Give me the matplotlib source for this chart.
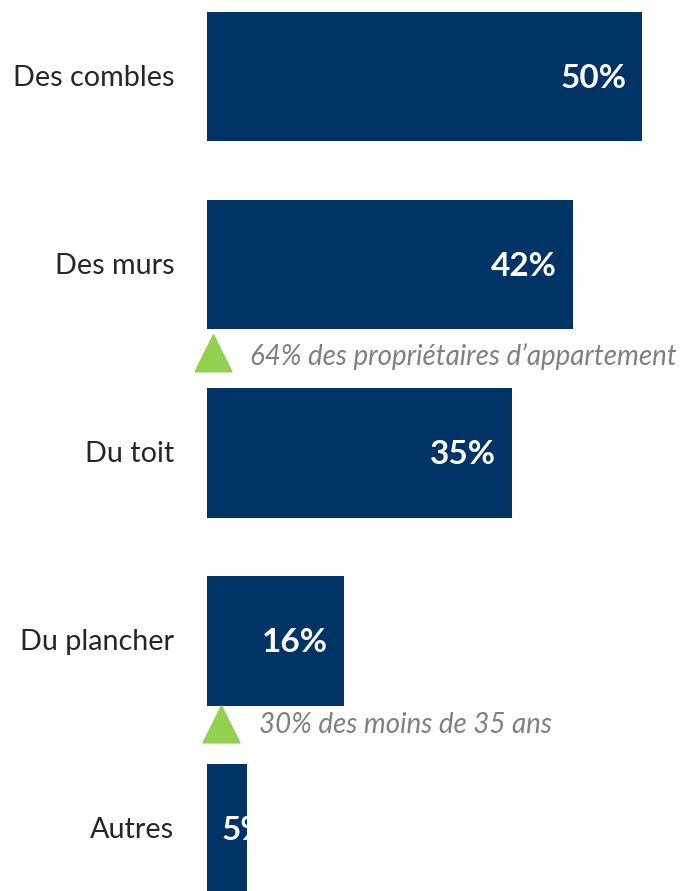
import numpy as np
import matplotlib.pyplot as plt
from matplotlib.patches import Polygon

# données
categories = ["Des combles", "Des murs", "Du toit", "Du plancher", "Autres"]
values = [50, 42, 35, 15.7, 4.6]
labels = ["50%", "42%", "35%", "16%", "5%"]
notes = {1: "64% des propriétaires d\u2019appartement", 3: "30% des moins de 35 ans"}

NAVY = "#003366"
GREEN = "#92D050"
GREY = "#808080"

W, H = 685, 891
fig = plt.figure(figsize=(W / 100, H / 100), dpi=100)
plt.rcParams['font.family'] = ['Lato', 'DejaVu Sans']

# axe: x=0 à 207px, x=50 à 642px ; y=0 à 76.5px, pas de 188px
x0, x50 = 207.3, 642.3
ax = fig.add_axes([x0 / W, 0, (x50 - x0) / W, 1])
ax.set_xlim(0, 50)
step = 188.1
ax.set_ylim((H - 76.5) / step, -76.5 / step)
ax.axis("off")

px = 50 / (x50 - x0)  # unités par pixel
ypx = 1 / step

y = np.arange(len(categories))
bars = ax.barh(y, values, height=0.69, color=NAVY, edgecolor="none")

for i, (b, v, lab, cat) in enumerate(zip(bars, values, labels, categories)):
    if v >= 10:
        t = ax.text(v - 16 * px, i + 2 * ypx, lab, ha="right", va="center",
                    color="white", fontsize=24, fontweight="bold")
    else:
        t = ax.text(14 * px, i + 2 * ypx, lab, ha="left", va="center",
                    color="white", fontsize=24, fontweight="bold")
    t.set_clip_path(b)
    ax.text(-33 * px, i + 1 * ypx, cat, ha="right", va="center", color="#262626",
            fontsize=20.7, clip_on=False)

# annotations avec triangle vert (positions en pixels)
tri_x = {1: 213.5, 3: 221.5}
tri_y = {1: 353.3, 3: 724.4}
txt_x = {1: 250, 3: 259}
txt_y = {1: 357, 3: 725}
def py(p):
    return (p - 76.5) / step

for i, txt in notes.items():
    xt = (tri_x[i] - x0) * px
    yc = py(tri_y[i])
    half = 18.5 * px
    hgt = 37 * ypx
    tri = Polygon([[xt - half, yc + hgt / 2], [xt + half, yc + hgt / 2],
                   [xt, yc - hgt / 2]], closed=True, color=GREEN, clip_on=False)
    ax.add_patch(tri)
    ax.text((txt_x[i] - x0) * px, py(txt_y[i]), txt, ha="left", va="center",
            color=GREY, fontsize=20, style="italic", clip_on=False)

fig.savefig("out.png", dpi=100)
